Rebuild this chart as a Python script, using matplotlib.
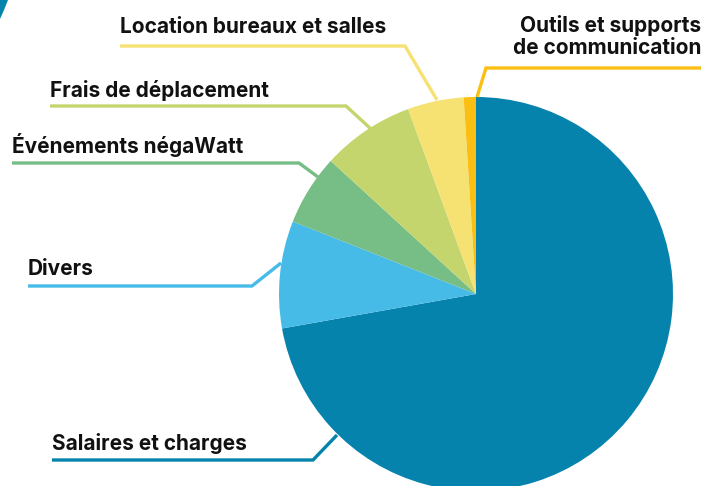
import matplotlib.pyplot as plt
from matplotlib.patches import Polygon

# parts du budget (%)
labels = ["Salaires et charges", "Divers", "Événements négaWatt",
          "Frais de déplacement", "Location bureaux et salles",
          "Outils et supports\nde communication"]
values = [72.2, 8.8, 5.8, 7.6, 4.6, 1.0]
colors = ["#0683ad", "#47bbe8", "#77bd86", "#c4d56e", "#f5e272", "#fbbf14"]

W, H = 717, 486

# emplacement des étiquettes (pixels, y depuis le haut) :
# texte x, ligne de base y, trait y, coude x, fin x, fin y, alignement
layout = [
    (52, 450, 460, 313, 337, 435, "left"),
    (28, 275, 286, 252, 281, 263, "left"),
    (12, 153, 163, 299, 318, 177, "left"),
    (50, 97, 106, 346, 371, 129, "left"),
    (120, 33, 46, 405, 437, 100, "left"),
    (701, 54, 68, 486, 477, 97, "right"),
]

plt.rcParams['font.family'] = ['Inter', 'DejaVu Sans']

fig = plt.figure(figsize=(W / 100, H / 100), dpi=100)
ax = fig.add_axes([0, 0, 1, 1])

cx, cy, r = 476, H - 294, 197
ax.pie(values, colors=colors, startangle=90, counterclock=False,
       center=(cx, cy), radius=r, frame=True,
       wedgeprops=dict(linewidth=0))
ax.set_xlim(0, W)
ax.set_ylim(0, H)
ax.set_aspect("equal")
ax.axis("off")

# bout de forme bleue dans le coin
ax.add_patch(Polygon([(0, H), (8, H), (4, H - 10), (0, H - 19)],
                     closed=True, color="#0683ad", lw=0))

for lab, col, (tx, ty, ly, ex, px, py, ha) in zip(labels, colors, layout):
    ax.text(tx, H - ty, lab, ha=ha, va="baseline", fontsize=15,
            fontweight="bold", color="#111111", linespacing=1.15)
    ax.plot([tx, ex, px], [H - ly, H - ly, H - py], color=col,
            lw=2.4, solid_capstyle="butt", solid_joinstyle="miter")

fig.savefig("out.png", dpi=100)
